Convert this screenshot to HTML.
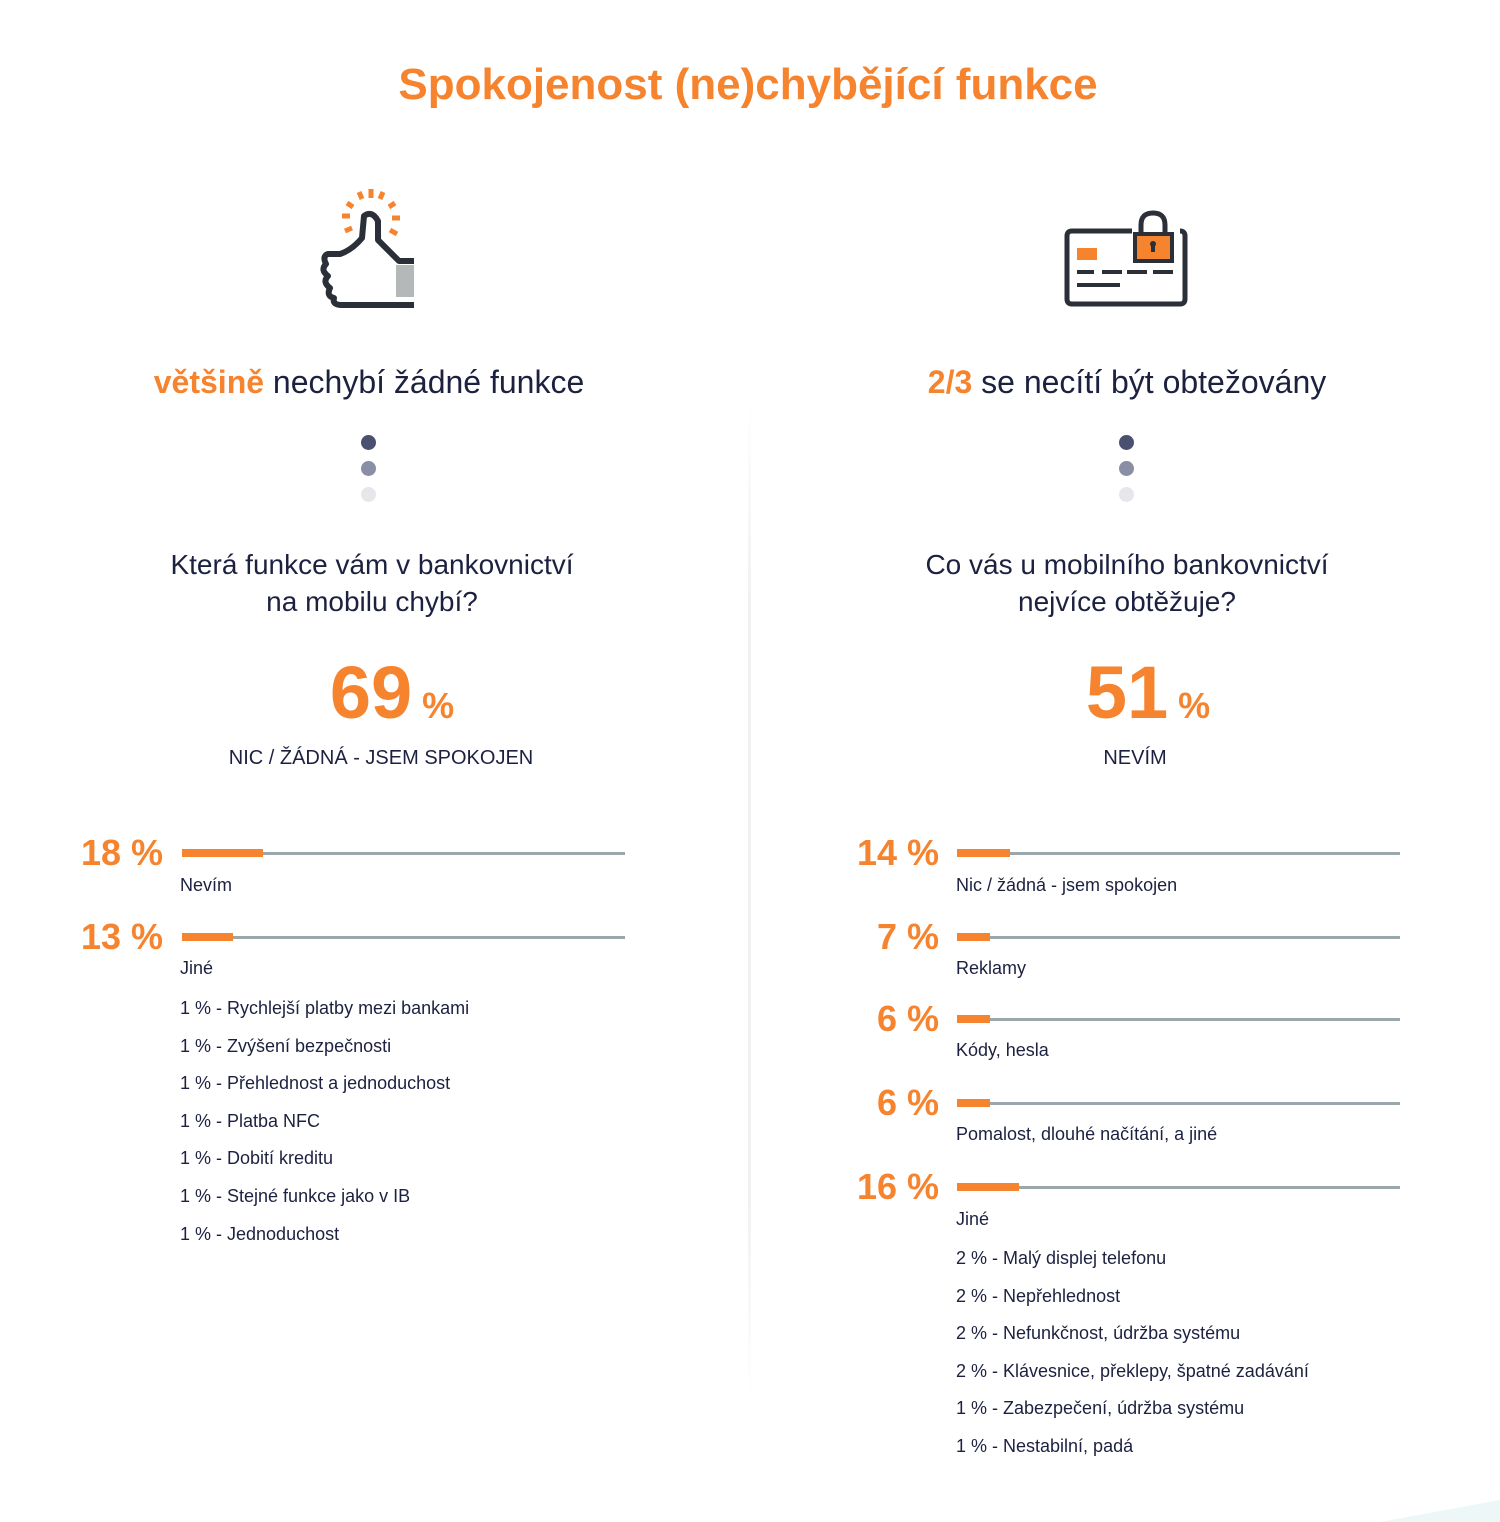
<!DOCTYPE html>
<html><head><meta charset="utf-8"><style>
*{margin:0;padding:0;box-sizing:border-box}
body{width:1500px;height:1522px;background:#fff;position:relative;overflow:hidden;font-family:"Liberation Sans","DejaVu Sans",sans-serif;color:#1c2140}
.a{position:absolute;white-space:nowrap}
.c{transform:translateX(-50%);text-align:center}
.o{color:#f6832e}
.pct{font-weight:bold;font-size:36px;color:#f6832e;text-align:right;width:120px;line-height:40px}
.gl{position:absolute;height:3px;background:#9aa8ab}
.ob{position:absolute;height:8px;background:#f6832e}
.lb{font-size:18px;line-height:22px}
.dot{position:absolute;width:15px;height:15px;border-radius:50%}
</style></head><body>
<div class="a c o" style="left:748px;top:60px;font-size:44px;font-weight:bold">Spokojenost (ne)chybějící funkce</div>
<div style="position:absolute;left:748px;top:400px;width:3px;height:1000px;background:linear-gradient(#fff,#f0f1f2 20%,#f0f1f2 80%,#fff)"></div>
<svg style="position:absolute;left:1380px;top:1495px" width="120" height="27"><polygon points="0,27 120,5 120,27" fill="#eef7f8"/></svg>

<!-- thumbs icon -->
<svg class="a" style="left:300px;top:180px" width="130" height="140" viewBox="300 180 130 140">
<g stroke="#f6832e" stroke-width="5">
<line x1="371" y1="189" x2="371" y2="198"/><line x1="359" y1="192" x2="362" y2="199"/><line x1="383" y1="192" x2="380" y2="199"/>
<line x1="347" y1="203" x2="353" y2="207"/><line x1="395" y1="203" x2="389" y2="207"/>
<line x1="342" y1="216" x2="350" y2="216"/><line x1="400" y1="218" x2="392" y2="218"/>
<line x1="345" y1="231" x2="352" y2="228"/><line x1="397" y1="234" x2="390" y2="230"/></g>
<path d="M414 261 H399 L378 240 V221 Q372 210 364 216 L362 238 Q352 250 340 254 H328 Q322 256 326 264 Q320 270 328 276 Q322 282 330 288 Q326 296 334 298 Q332 305 342 305 H414" fill="none" stroke="#2b2f38" stroke-width="6" stroke-linejoin="round"/>
<rect x="396" y="265" width="18" height="32" fill="#b5b8b8"/>
</svg>
<!-- card icon -->
<svg class="a" style="left:1060px;top:205px" width="135" height="110" viewBox="1060 205 135 110">
<path d="M1132 231 H1072 Q1067 231 1067 236 V299 Q1067 304 1072 304 H1180 Q1185 304 1185 299 V236 Q1185 231 1180 231" fill="none" stroke="#2b2f38" stroke-width="5"/>
<rect x="1077" y="248" width="20" height="12" fill="#f6832e"/>
<g stroke="#2b2f38" stroke-width="4"><line x1="1077" y1="272" x2="1094" y2="272"/><line x1="1102" y1="272" x2="1122" y2="272"/><line x1="1127" y1="272" x2="1147" y2="272"/><line x1="1153" y1="272" x2="1173" y2="272"/><line x1="1077" y1="285" x2="1120" y2="285"/></g>
<path d="M1141 237 V225 Q1141 213 1153 213 Q1165 213 1165 225 V237" fill="none" stroke="#2b2f38" stroke-width="5"/>
<rect x="1135" y="234" width="37" height="27" fill="#f6832e" stroke="#2b2f38" stroke-width="4"/>
<circle cx="1153" cy="244" r="3" fill="#2b2f38"/><rect x="1151" y="244" width="4" height="8" fill="#2b2f38"/>
</svg>

<!-- headlines -->
<div class="a c" style="left:369px;top:364px;font-size:32px"><b class="o">většině</b> nechybí žádné funkce</div>
<div class="a c" style="left:1127px;top:364px;font-size:32px"><b class="o">2/3</b> se necítí být obtežovány</div>
<div class="dot" style="left:361px;top:435px;background:#4a5170"></div>
<div class="dot" style="left:361px;top:461px;background:#8a8fa5"></div>
<div class="dot" style="left:361px;top:487px;background:#e6e7ea"></div>
<div class="dot" style="left:1119px;top:435px;background:#4a5170"></div>
<div class="dot" style="left:1119px;top:461px;background:#8a8fa5"></div>
<div class="dot" style="left:1119px;top:487px;background:#e6e7ea"></div>

<div class="a c" style="left:372px;top:546px;font-size:28px;line-height:37px">Která funkce vám v bankovnictví<br>na mobilu chybí?</div>
<div class="a c" style="left:1127px;top:546px;font-size:28px;line-height:37px">Co vás u mobilního bankovnictví<br>nejvíce obtěžuje?</div>

<div class="a c o" style="left:392px;top:650px;font-weight:bold"><span style="font-size:74px">69</span><span style="font-size:36px"> %</span></div>
<div class="a c o" style="left:1148px;top:650px;font-weight:bold"><span style="font-size:74px">51</span><span style="font-size:36px"> %</span></div>
<div class="a c" style="left:381px;top:747px;font-size:20px">NIC / ŽÁDNÁ - JSEM SPOKOJEN</div>
<div class="a c" style="left:1135px;top:747px;font-size:20px">NEVÍM</div>

<!-- left bars -->
<div class="a pct" style="left:43px;top:833px">18 %</div>
<div class="gl" style="left:182px;top:852px;width:443px"></div><div class="ob" style="left:182px;top:849px;width:81px"></div>
<div class="a lb" style="left:180px;top:874px">Nevím</div>
<div class="a pct" style="left:43px;top:917px">13 %</div>
<div class="gl" style="left:182px;top:936px;width:443px"></div><div class="ob" style="left:182px;top:933px;width:51px"></div>
<div class="a lb" style="left:180px;top:957px">Jiné</div>
<div class="a lb" style="left:180px;top:990px;line-height:37.6px">1 % - Rychlejší platby mezi bankami<br>1 % - Zvýšení bezpečnosti<br>1 % - Přehlednost a jednoduchost<br>1 % - Platba NFC<br>1 % - Dobití kreditu<br>1 % - Stejné funkce jako v IB<br>1 % - Jednoduchost</div>

<!-- right bars -->
<div class="a pct" style="left:819px;top:833px">14 %</div>
<div class="gl" style="left:957px;top:852px;width:443px"></div><div class="ob" style="left:957px;top:849px;width:53px"></div>
<div class="a lb" style="left:956px;top:874px">Nic / žádná - jsem spokojen</div>
<div class="a pct" style="left:819px;top:917px">7 %</div>
<div class="gl" style="left:957px;top:936px;width:443px"></div><div class="ob" style="left:957px;top:933px;width:33px"></div>
<div class="a lb" style="left:956px;top:957px">Reklamy</div>
<div class="a pct" style="left:819px;top:999px">6 %</div>
<div class="gl" style="left:957px;top:1018px;width:443px"></div><div class="ob" style="left:957px;top:1015px;width:33px"></div>
<div class="a lb" style="left:956px;top:1039px">Kódy, hesla</div>
<div class="a pct" style="left:819px;top:1083px">6 %</div>
<div class="gl" style="left:957px;top:1102px;width:443px"></div><div class="ob" style="left:957px;top:1099px;width:33px"></div>
<div class="a lb" style="left:956px;top:1123px">Pomalost, dlouhé načítání, a jiné</div>
<div class="a pct" style="left:819px;top:1167px">16 %</div>
<div class="gl" style="left:957px;top:1186px;width:443px"></div><div class="ob" style="left:957px;top:1183px;width:62px"></div>
<div class="a lb" style="left:956px;top:1208px">Jiné</div>
<div class="a lb" style="left:956px;top:1240px;line-height:37.6px">2 % - Malý displej telefonu<br>2 % - Nepřehlednost<br>2 % - Nefunkčnost, údržba systému<br>2 % - Klávesnice, překlepy, špatné zadávání<br>1 % - Zabezpečení, údržba systému<br>1 % - Nestabilní, padá</div>
</body></html>
